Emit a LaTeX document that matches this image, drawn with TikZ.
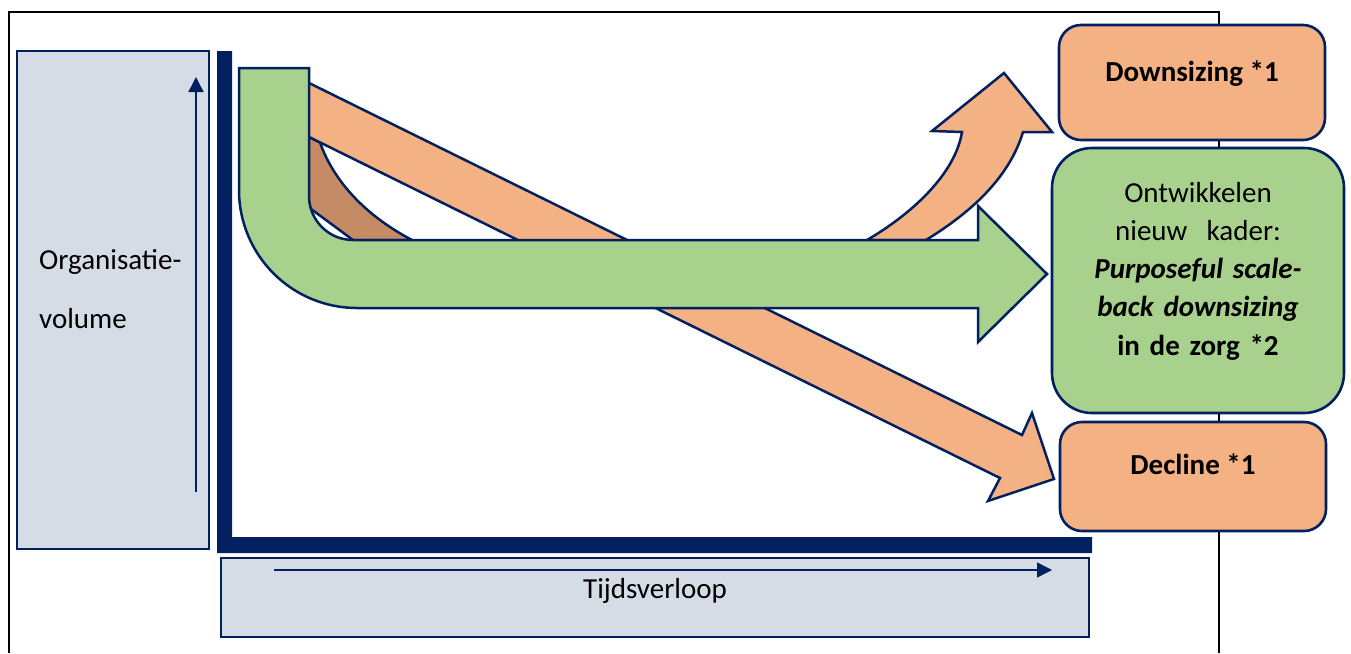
\documentclass[tikz,border=0pt]{standalone}
\usepackage{fontspec}
\setmainfont{Carlito}
\usetikzlibrary{arrows.meta}
\definecolor{navy}{RGB}{0,32,96}
\definecolor{peach}{RGB}{244,177,131}
\definecolor{leaf}{RGB}{169,209,142}
\definecolor{mist}{RGB}{214,220,229}
\definecolor{clay}{RGB}{197,139,101}
\begin{document}
\begin{tikzpicture}[x=1pt,y=-1pt,
  outline/.style={draw=navy, line width=2.5pt, line join=miter},
  axisbox/.style={draw=navy, line width=2.6pt, fill=mist, inner sep=0pt},
  stagebox/.style={draw=navy, line width=2.6pt, inner sep=0pt},
  axisarrow/.style={draw=navy, line width=1.5pt, -{Triangle[length=15pt,width=15pt]}},
  label/.style={inner sep=0pt, font=\fontsize{29}{38.3}\selectfont}
]
\useasboundingbox (0,0) rectangle (1351,653);

% surrounding frame and the connector running through the stage boxes
\draw[line width=2.2pt] (9,653) -- (9,12) -- (1219,12) -- (1219,653);

% axis boxes
\node[axisbox, minimum width=192pt, minimum height=498pt] (vbox) at (113,300) {};
\node[axisbox, minimum width=868pt, minimum height=79pt] (hbox) at (655,597.5) {};
\coordinate (vstart) at (196,492);
\coordinate (vend) at (196,77);
\coordinate (hstart) at (274,570);
\coordinate (hend) at (1052,570);
\draw[axisarrow] (vstart) -- (vend);
\draw[axisarrow] (hstart) -- (hend);

% thick L-shaped axes
\fill[navy] (217,51) -- (232,51) -- (232,537) -- (1092,537) -- (1092,553) -- (217,553) -- cycle;

% dark fold under the bend
\path[outline, fill=clay] (305,135) -- (320,142.4)
  .. controls (335,185) and (370,218) .. (412,240)
  -- (353,240) -- (311,209) -- (305,209) -- cycle;

% straight arrow towards decline
\path[outline, fill=peach] (305,81) -- (1022,435) -- (1032,413) -- (1054,479)
  -- (988,501) -- (1000,478) -- (305,135) -- cycle;

% curved arrow towards downsizing
\path[outline, fill=peach] (867,240) .. controls (910,215) and (955,175) .. (962,132)
  -- (932,131) -- (1004,73) -- (1052,132) -- (1023,132)
  .. controls (1010,175) and (975,210) .. (926,240) -- cycle;

% bent arrow towards the new framework
\path[outline, fill=leaf] (239,68) -- (309,68) -- (309,196)
  .. controls (309,220.3) and (328.7,240) .. (353,240)
  -- (978,240) -- (978,206) -- (1047,274) -- (978,342) -- (978,308) -- (357,308)
  .. controls (291.8,308) and (239,255.2) .. (239,190) -- cycle;

% stage boxes
\node[stagebox, fill=peach, rounded corners=22pt, minimum width=266pt, minimum height=115pt] (down) at (1192,82.5) {};
\node[stagebox, fill=leaf, rounded corners=40pt, minimum width=292pt, minimum height=265pt] (frame) at (1198,280.5) {};
\node[stagebox, fill=peach, rounded corners=22pt, minimum width=266pt, minimum height=109pt] (decl) at (1193,476.5) {};

% texts
\node[label, anchor=base west, align=left, text width=165pt, font=\fontsize{29}{59}\selectfont] (ylab) at (39,269) {Organisatie-\\volume};
\node[label, anchor=base] (xlab) at (655,598) {Tijdsverloop};
\node[label, anchor=base, font=\fontsize{29}{38.3}\selectfont\bfseries] (downlab) at (1192,81) {Downsizing *1};
\node[label, anchor=base, font=\fontsize{29}{38.3}\selectfont\bfseries] (decllab) at (1193,474) {Decline *1};
\node[label, anchor=base, align=center, text width=290pt] (framelab) at (1198,202)
  {Ontwikkelen\\ nieuw\ \ kader:\\ \textbf{\textit{Purposeful scale-}}\\ \textbf{\textit{back downsizing}}\\ \textbf{in de zorg *2}};
\end{tikzpicture}
\end{document}
